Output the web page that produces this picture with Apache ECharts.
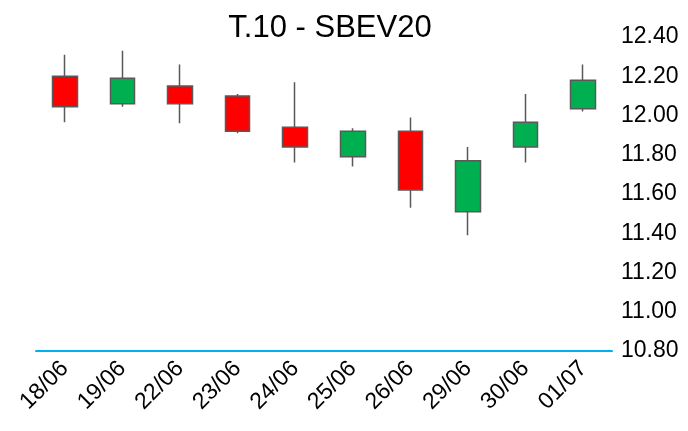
<!DOCTYPE html>
<html>
<head>
<meta charset="utf-8">
<script src="https://cdn.jsdelivr.net/npm/echarts@6/dist/echarts.min.js"></script>
<style>
  html, body { margin: 0; padding: 0; background: #fff; }
  #chart { width: 688px; height: 431px; }
</style>
</head>
<body>
<div id="chart"></div>
<script>
// dates
var days = ['18/06', '19/06', '22/06', '23/06', '24/06', '25/06', '26/06', '29/06', '30/06', '01/07'];
// prices
var openPrices  = [12.20, 12.06, 12.15, 12.10, 11.94, 11.79, 11.92, 11.51, 11.84, 12.035];
var closePrices = [12.045, 12.19, 12.06, 11.92, 11.84, 11.92, 11.62, 11.77, 11.965, 12.18];
var lowPrices   = [11.965, 12.045, 11.96, 11.91, 11.76, 11.74, 11.53, 11.39, 11.76, 12.02];
var highPrices  = [12.31, 12.33, 12.26, 12.11, 12.17, 11.935, 11.99, 11.84, 12.11, 12.26];

var candles = [];
for (var i = 0; i < days.length; i++) {
  candles.push([openPrices[i], closePrices[i], lowPrices[i], highPrices[i]]);
}

var myChart = echarts.init(document.getElementById('chart'));
var option = {
  backgroundColor: '#FFFFFF',
  animation: false,
  title: {
    text: 'T.10 - SBEV20',
    left: 325,
    top: 8,
    textAlign: 'center',
    textStyle: {
      fontFamily: 'Liberation Sans',
      fontSize: 31,
      fontWeight: 'normal',
      color: '#000'
    }
  },
  grid: {
    left: 36,
    right: 76,
    top: 37,
    bottom: 80
  },
  xAxis: {
    type: 'category',
    data: days,
    boundaryGap: true,
    axisLine: { lineStyle: { color: '#00B0F0', width: 2 } },
    axisTick: { show: false },
    axisLabel: {
      rotate: 45,
      margin: 14,
      fontFamily: 'Liberation Sans',
      fontSize: 23,
      color: '#000'
    },
    splitLine: { show: false }
  },
  yAxis: {
    type: 'value',
    position: 'right',
    min: 10.8,
    max: 12.4,
    interval: 0.2,
    axisLine: { show: false },
    axisTick: { show: false },
    splitLine: { show: false },
    axisLabel: {
      margin: 9,
      fontFamily: 'Liberation Sans',
      fontSize: 23,
      color: '#000',
      formatter: function (v) { return v.toFixed(2); }
    }
  },
  series: [{
    type: 'candlestick',
    data: candles,
    barWidth: 25,
    itemStyle: {
      color: '#00B050',
      color0: '#FF0000',
      borderColor: '#595959',
      borderColor0: '#595959',
      borderWidth: 1.5
    }
  }]
};
myChart.setOption(option);
</script>
</body>
</html>
